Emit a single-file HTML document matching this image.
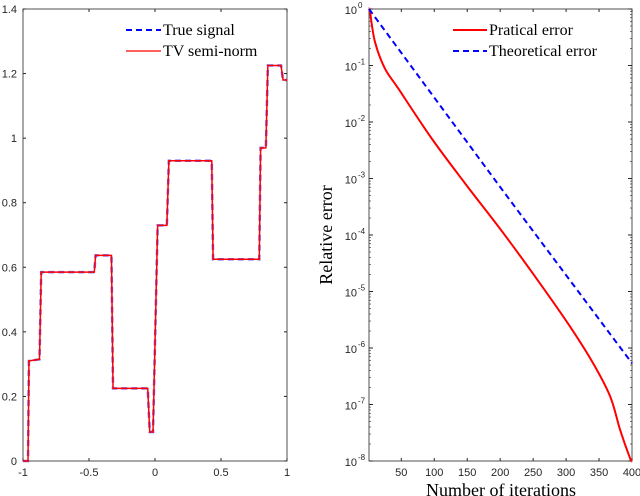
<!DOCTYPE html>
<html><head><meta charset="utf-8"><style>
html,body{margin:0;padding:0;background:#fff;width:640px;height:496px;overflow:hidden}
svg{display:block}
.tk{font-family:"Liberation Sans",sans-serif;font-size:11px;fill:#262626}
.lg{font-family:"Liberation Serif",serif;font-size:16px;fill:#000}
</style></head><body>
<svg id="chart" width="640" height="496" viewBox="0 0 640 496"></svg>
<script>
// Left chart data
const sigX = [-1,-0.962,-0.955,-0.875,-0.862,-0.46,-0.45,-0.33,-0.318,-0.055,-0.04,-0.015,0.02,0.03,0.09,0.105,0.43,0.44,0.79,0.8,0.84,0.855,0.955,0.97,1];
const sigY = [0,0,0.31,0.315,0.585,0.585,0.637,0.637,0.225,0.225,0.09,0.09,0.73,0.73,0.73,0.93,0.93,0.625,0.625,0.97,0.97,1.225,1.225,1.18,1.18];
const leftXTicks = [-1,-0.5,0,0.5,1];
const leftXLabels = ["-1","-0.5","0","0.5","1"];
const leftYTicks = [0,0.2,0.4,0.6,0.8,1,1.2,1.4];
const leftYLabels = ["0","0.2","0.4","0.6","0.8","1","1.2","1.4"];
// Right chart data (log10 of error)
const iters = [1,2.5,10,25,45,96,147,205,260,306,341,367,382,397,400];
const practical = [0,-0.05,-0.58,-1.05,-1.4,-2.29,-3.09,-3.97,-4.85,-5.62,-6.27,-6.86,-7.45,-7.95,-8];
const theoIters = [1,205,400];
const theoretical = [0,-3.23,-6.27];
const rightXTicks = [50,100,150,200,250,300,350,400];
const rightYTicks = [0,-1,-2,-3,-4,-5,-6,-7,-8];

const NS="http://www.w3.org/2000/svg";
const svg=document.getElementById('chart');
function mk(t,a,p){const e=document.createElementNS(NS,t);for(const k in a)e.setAttribute(k,a[k]);(p||svg).appendChild(e);return e;}
function smooth(pts){let d='M'+pts[0][0]+','+pts[0][1];
 for(let i=0;i<pts.length-1;i++){const p0=pts[Math.max(0,i-1)],p1=pts[i],p2=pts[i+1],p3=pts[Math.min(pts.length-1,i+2)];
  const c1=[p1[0]+(p2[0]-p0[0])/6,p1[1]+(p2[1]-p0[1])/6],c2=[p2[0]-(p3[0]-p1[0])/6,p2[1]-(p3[1]-p1[1])/6];
  d+=' C'+c1[0]+','+c1[1]+' '+c2[0]+','+c2[1]+' '+p2[0]+','+p2[1];}
 return d;}

// ---- Left axes
const L={x0:23,x1:287,y0:461,y1:9};
const lx=v=>L.x0+(v+1)/2*(L.x1-L.x0);
const ly=v=>L.y0-v/1.4*(L.y0-L.y1);
const gL=mk('g',{});


let box=mk('rect',{x:L.x0,y:L.y1,width:L.x1-L.x0,height:L.y0-L.y1,fill:'none',stroke:'#262626','stroke-width':0.8},gL);


leftXTicks.forEach((v,i)=>{const x=lx(v);
 mk('line',{x1:x,x2:x,y1:L.y0,y2:L.y0-3,stroke:'#262626'},gL);
 mk('line',{x1:x,x2:x,y1:L.y1,y2:L.y1+3,stroke:'#262626'},gL);
 const t=mk('text',{x:x,y:L.y0+15,'text-anchor':'middle',class:'tk'},gL);t.textContent=leftXLabels[i];
 
 });
leftYTicks.forEach((v,i)=>{const y=ly(v);
 mk('line',{x1:L.x0,x2:L.x0+3,y1:y,y2:y,stroke:'#262626'},gL);
 mk('line',{x1:L.x1,x2:L.x1-3,y1:y,y2:y,stroke:'#262626'},gL);
 const t=mk('text',{x:L.x0-6,y:y+4,'text-anchor':'end',class:'tk'},gL);t.textContent=leftYLabels[i];
 
 });
const sp=sigX.map((x,i)=>lx(x)+','+ly(sigY[i])).join(' ');
let p1=mk('polyline',{points:sp,fill:'none',stroke:'#3333ff','stroke-width':2.5,'stroke-dasharray':'6,4',opacity:0.75},gL);


let p2=mk('polyline',{points:sp,fill:'none',stroke:'#ff0000','stroke-width':1.5},gL);


// legend left
let l1=mk('line',{x1:126,x2:161,y1:30,y2:30,stroke:'#0000ff','stroke-width':2,'stroke-dasharray':'6,4'},gL);


let t1=mk('text',{x:163,y:35,class:'lg'},gL);t1.textContent='True signal';


let l2=mk('line',{x1:126,x2:161,y1:51,y2:51,stroke:'#ff0000','stroke-width':1.3},gL);


let t2=mk('text',{x:163,y:56,class:'lg'},gL);t2.textContent='TV semi-norm';



// ---- Right axes
const R={x0:369,x1:632,y0:461,y1:9};
const rx=v=>R.x0+(v-1)/399*(R.x1-R.x0);
const ry=v=>R.y1+(-v)/8*(R.y0-R.y1);
const gR=mk('g',{});


box=mk('rect',{x:R.x0,y:R.y1,width:R.x1-R.x0,height:R.y0-R.y1,fill:'none',stroke:'#262626','stroke-width':0.8},gR);


rightXTicks.forEach(v=>{const x=rx(v);
 mk('line',{x1:x,x2:x,y1:R.y0,y2:R.y0-3,stroke:'#262626'},gR);
 mk('line',{x1:x,x2:x,y1:R.y1,y2:R.y1+3,stroke:'#262626'},gR);
 const t=mk('text',{x:x,y:R.y0+15,'text-anchor':'middle',class:'tk'},gR);t.textContent=String(v);
 
 });
rightYTicks.forEach(v=>{const y=ry(v);
 mk('line',{x1:R.x0,x2:R.x0+4,y1:y,y2:y,stroke:'#262626'},gR);
 mk('line',{x1:R.x1,x2:R.x1-4,y1:y,y2:y,stroke:'#262626'},gR);
 if(v>-8){for(let k=2;k<=9;k++){const yy=ry(v-1+Math.log10(k));
  mk('line',{x1:R.x0,x2:R.x0+2,y1:yy,y2:yy,stroke:'#262626','stroke-width':0.6},gR);
  mk('line',{x1:R.x1,x2:R.x1-2,y1:yy,y2:yy,stroke:'#262626','stroke-width':0.6},gR);}}
 const t=mk('text',{x:R.x0-12,y:y+5,'text-anchor':'end',class:'tk'},gR);t.textContent='10';
 
 
 const s=mk('text',{x:R.x0-11,y:y-1,class:'tk','font-size':'8'},gR);s.textContent=String(v);s.style.fontSize='8px';
 
 });
let pe=mk('path',{d:smooth(iters.map((x,i)=>[rx(x),ry(practical[i])])),fill:'none',stroke:'#ff0000','stroke-width':2,'stroke-linejoin':'round'},gR);


let te=mk('polyline',{points:theoIters.map((x,i)=>rx(x)+','+ry(theoretical[i])).join(' '),fill:'none',stroke:'#0000ff','stroke-width':2,'stroke-dasharray':'6,4'},gR);


let l3=mk('line',{x1:453,x2:487,y1:30,y2:30,stroke:'#ff0000','stroke-width':2},gR);


let t3=mk('text',{x:489,y:35,class:'lg'},gR);t3.textContent='Pratical error';


let l4=mk('line',{x1:453,x2:487,y1:51,y2:51,stroke:'#0000ff','stroke-width':2,'stroke-dasharray':'6,4'},gR);


let t4=mk('text',{x:489,y:56,class:'lg'},gR);t4.textContent='Theoretical error';


let yt=mk('text',{x:0,y:0,class:'lg','text-anchor':'middle',transform:'translate(332,235) rotate(-90)'},gR);
yt.textContent='Relative error';yt.style.fontSize='18px';


let xt=mk('text',{x:501,y:496,class:'lg','text-anchor':'middle'},gR);
xt.textContent='Number of iterations';xt.style.fontSize='18px';


</script>
</body></html>
